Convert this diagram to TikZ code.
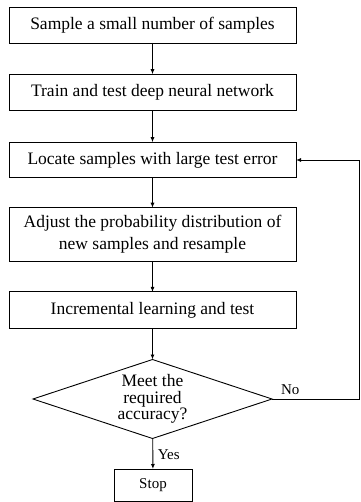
\documentclass[tikz,border=0pt]{standalone}
\usepackage{fontspec}
\setmainfont{Liberation Serif}
\usetikzlibrary{shapes.geometric,arrows.meta}
\begin{document}
\begin{tikzpicture}[x=1pt,y=-1pt,
  every node/.style={inner sep=0pt, outer sep=0pt},
  flowbox/.style={draw, line width=0.9pt, minimum width=287pt, align=center,
    font=\fontsize{17.5}{22}\selectfont},
  decision/.style={draw, line width=0.9pt, diamond, minimum width=239pt, minimum height=79pt,
    aspect=3, align=center, font=\fontsize{17.5}{16.5}\selectfont},
  lab/.style={font=\fontsize{15}{17}\selectfont},
  link/.style={draw, line width=0.9pt, -{Latex[length=5pt,width=4pt]}}]
\useasboundingbox (0,0) rectangle (360,502);
\node[flowbox, minimum height=36pt] (b1) at (152.5,25) {Sample a small number of samples};
\node[flowbox, minimum height=36.5pt] (b2) at (152.5,92.5) {Train and test deep neural network};
\node[flowbox, minimum height=35.5pt] (b3) at (152.5,160) {Locate samples with large test error};
\node[flowbox, minimum height=54pt] (b4) at (152.5,234.7) {Adjust the probability distribution of\\new samples and resample};
\node[flowbox, minimum height=37pt] (b5) at (152.5,310.4) {Incremental learning and test};
\node[decision] (d) at (152.5,399) {Meet the\\required\\accuracy?};
\node[draw, line width=0.9pt, minimum width=78pt, minimum height=32pt, lab] (stop) at (153,485) {Stop};
\coordinate (c1) at (359,399);
\coordinate (c2) at (359,160);
\draw[link] (b1) -- (b2);
\draw[link] (b2) -- (b3);
\draw[link] (b3) -- (b4);
\draw[link] (b4) -- (b5);
\draw[link] (b5) -- (d);
\draw[link] (d) -- node[lab, right, xshift=5pt, yshift=-1pt] {Yes} (stop);
\draw[line width=0.9pt] (d.east) -- (c1) -- (c2);
\node[lab, anchor=south west] (no) at ([xshift=9pt,yshift=4pt]d.east) {No};
\draw[link] (c2) -- (b3.east);
\end{tikzpicture}
\end{document}
